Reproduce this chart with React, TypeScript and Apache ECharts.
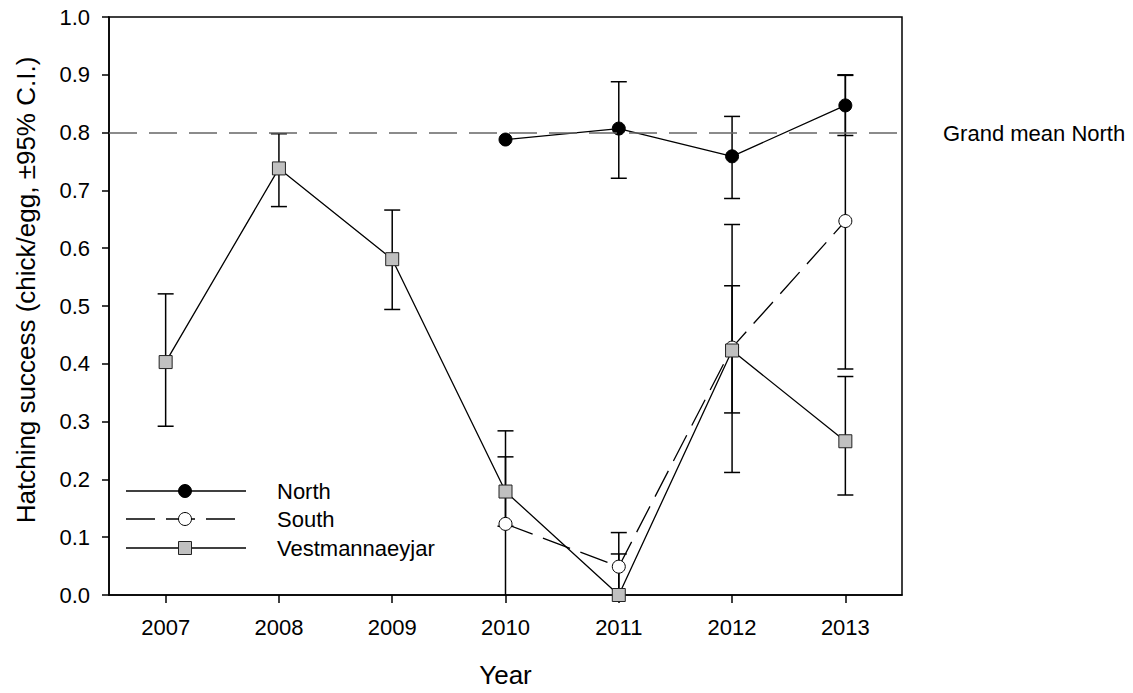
import React, { useEffect, useRef } from "react";
import * as echarts from "echarts";

const years = ["2007", "2008", "2009", "2010", "2011", "2012", "2013"];
const yTicks = [0, 0.1, 0.2, 0.3, 0.4, 0.5, 0.6, 0.7, 0.8, 0.9, 1.0];

const northMean = [null, null, null, 0.788, 0.807, 0.759, 0.847];
const northLow = [null, null, null, null, 0.721, 0.686, 0.795];
const northHigh = [null, null, null, null, 0.888, 0.828, 0.899];

const southMean = [null, null, null, 0.123, 0.049, 0.428, 0.647];
const southLow = [null, null, null, -0.04, -0.01, 0.212, 0.391];
const southHigh = [null, null, null, 0.284, 0.108, 0.641, 0.9];

const vestMean = [0.403, 0.738, 0.581, 0.179, 0.0, 0.423, 0.266];
const vestLow = [0.292, 0.672, 0.494, 0.119, -0.071, 0.315, 0.173];
const vestHigh = [0.521, 0.798, 0.666, 0.239, 0.071, 0.535, 0.378];

const grandMeanNorth = 0.8;

const FONT = "Liberation Sans, Arial, Helvetica, sans-serif";

function errData(low: (number | null)[], high: (number | null)[]) {
  const out: number[][] = [];
  for (let i = 0; i < low.length; i++) {
    if (low[i] !== null && high[i] !== null) out.push([i, low[i] as number, high[i] as number]);
  }
  return out;
}

function errSeries(low: (number | null)[], high: (number | null)[]) {
  return {
    type: "custom",
    z: 1,
    silent: true,
    data: errData(low, high),
    encode: { x: 0, y: [1, 2] },
    renderItem: (params: any, api: any) => {
      const x = api.value(0);
      const lo = api.value(1);
      const hi = api.value(2);
      const pTop = api.coord([x, Math.min(hi, 1)]);
      const pBot = api.coord([x, Math.max(lo, 0)]);
      const half = 8;
      const st = { stroke: "#000", lineWidth: 1.5 };
      const children: any[] = [
        { type: "line", shape: { x1: pTop[0], y1: pTop[1], x2: pBot[0], y2: pBot[1] }, style: st },
      ];
      if (hi <= 1) {
        children.push({ type: "line", shape: { x1: pTop[0] - half, y1: pTop[1], x2: pTop[0] + half, y2: pTop[1] }, style: st });
      }
      if (lo >= 0) {
        children.push({ type: "line", shape: { x1: pBot[0] - half, y1: pBot[1], x2: pBot[0] + half, y2: pBot[1] }, style: st });
      }
      return { type: "group", children };
    },
  };
}

export default function App() {
  const ref = useRef<HTMLDivElement>(null);
  useEffect(() => {
    if (!ref.current) return;
    const chart = echarts.init(ref.current, undefined, { renderer: "svg" });
    const legendRows = [
      { name: "North", y: 491, dash: null as any, sym: "circle", fill: "#000" },
      { name: "South", y: 519, dash: [29, 11], sym: "circle", fill: "#fff" },
      { name: "Vestmannaeyjar", y: 548, dash: null as any, sym: "rect", fill: "#c0c0c0" },
    ];
    const legendGraphics: any[] = [];
    legendRows.forEach((r) => {
      legendGraphics.push({
        type: "line",
        shape: { x1: 126, y1: r.y, x2: 246, y2: r.y },
        style: { stroke: "#000", lineWidth: 1.3, lineDash: r.dash || undefined },
        z: 10,
      });
      if (r.sym === "circle") {
        legendGraphics.push({
          type: "circle",
          shape: { cx: 185, cy: r.y, r: 6.5 },
          style: { fill: r.fill, stroke: "#000", lineWidth: 1 },
          z: 11,
        });
      } else {
        legendGraphics.push({
          type: "rect",
          shape: { x: 178.5, y: r.y - 6.5, width: 13, height: 13 },
          style: { fill: r.fill, stroke: "#222", lineWidth: 1 },
          z: 11,
        });
      }
      legendGraphics.push({
        type: "text",
        x: 277,
        y: r.y,
        style: { text: r.name, font: `22px ${FONT}`, fill: "#000", align: "left", verticalAlign: "middle" },
        z: 11,
      });
    });

    const lineBase = {
      type: "line",
      z: 3,
      connectNulls: false,
      symbolSize: 13,
      lineStyle: { color: "#000", width: 1.3 },
      emphasis: { disabled: true },
    };

    chart.setOption({
      animation: false,
      grid: {
        left: 109,
        top: 17,
        width: 793,
        height: 580,
        show: true,
        borderColor: "#000",
        borderWidth: 1.5,
        backgroundColor: "transparent",
      },
      xAxis: {
        type: "category",
        data: years,
        boundaryGap: true,
        axisLine: { show: true, lineStyle: { color: "#000", width: 1.5 } },
        axisTick: { show: true, alignWithLabel: true, length: 8, lineStyle: { color: "#000", width: 1.5 } },
        axisLabel: { color: "#000", fontSize: 22, fontFamily: FONT, margin: 21 },
        splitLine: { show: false },
        name: "Year",
        nameLocation: "middle",
        nameGap: 67,
        nameTextStyle: { color: "#000", fontSize: 26, fontFamily: FONT },
      },
      yAxis: {
        type: "value",
        min: 0,
        max: 1,
        interval: 0.1,
        axisLine: { show: true, lineStyle: { color: "#000", width: 1.5 } },
        axisTick: { show: true, length: 7, lineStyle: { color: "#000", width: 1.5 } },
        axisLabel: {
          color: "#000",
          fontSize: 22,
          fontFamily: FONT,
          margin: 19,
          formatter: (v: number) => (yTicks.some((t) => Math.abs(t - v) < 1e-9) ? v.toFixed(1) : ""),
        },
        splitLine: { show: false },
      },
      graphic: [
        {
          type: "text",
          x: 26,
          y: 290,
          rotation: Math.PI / 2,
          style: {
            text: "Hatching success (chick/egg, \u00b195% C.I.)",
            font: `26px ${FONT}`,
            fill: "#000",
            align: "center",
            verticalAlign: "middle",
          },
        },
        {
          type: "text",
          x: 943,
          y: 133,
          style: { text: "Grand mean North", font: `22px ${FONT}`, fill: "#000", align: "left", verticalAlign: "middle" },
        },
        ...legendGraphics,
      ],
      series: [
        errSeries(northLow, northHigh),
        errSeries(southLow, southHigh),
        errSeries(vestLow, vestHigh),
        {
          ...lineBase,
          name: "North",
          data: northMean,
          symbol: "circle",
          itemStyle: { color: "#000", borderColor: "#000", borderWidth: 1 },
          markLine: {
            silent: true,
            symbol: "none",
            label: { show: false },
            lineStyle: { color: "#666", width: 1.5, type: [28, 12] },
            data: [{ yAxis: grandMeanNorth }],
          },
        },
        {
          ...lineBase,
          name: "South",
          data: southMean,
          symbol: "circle",
          lineStyle: { color: "#000", width: 1.3, type: [29, 11] },
          itemStyle: { color: "#fff", borderColor: "#000", borderWidth: 1 },
        },
        {
          ...lineBase,
          name: "Vestmannaeyjar",
          data: vestMean,
          symbol: "rect",
          itemStyle: { color: "#c0c0c0", borderColor: "#222", borderWidth: 1 },
        },
      ],
    });
    return () => chart.dispose();
  }, []);
  return <div ref={ref} style={{ width: 1133, height: 693, position: "absolute", left: 0, top: 0 }} />;
}
